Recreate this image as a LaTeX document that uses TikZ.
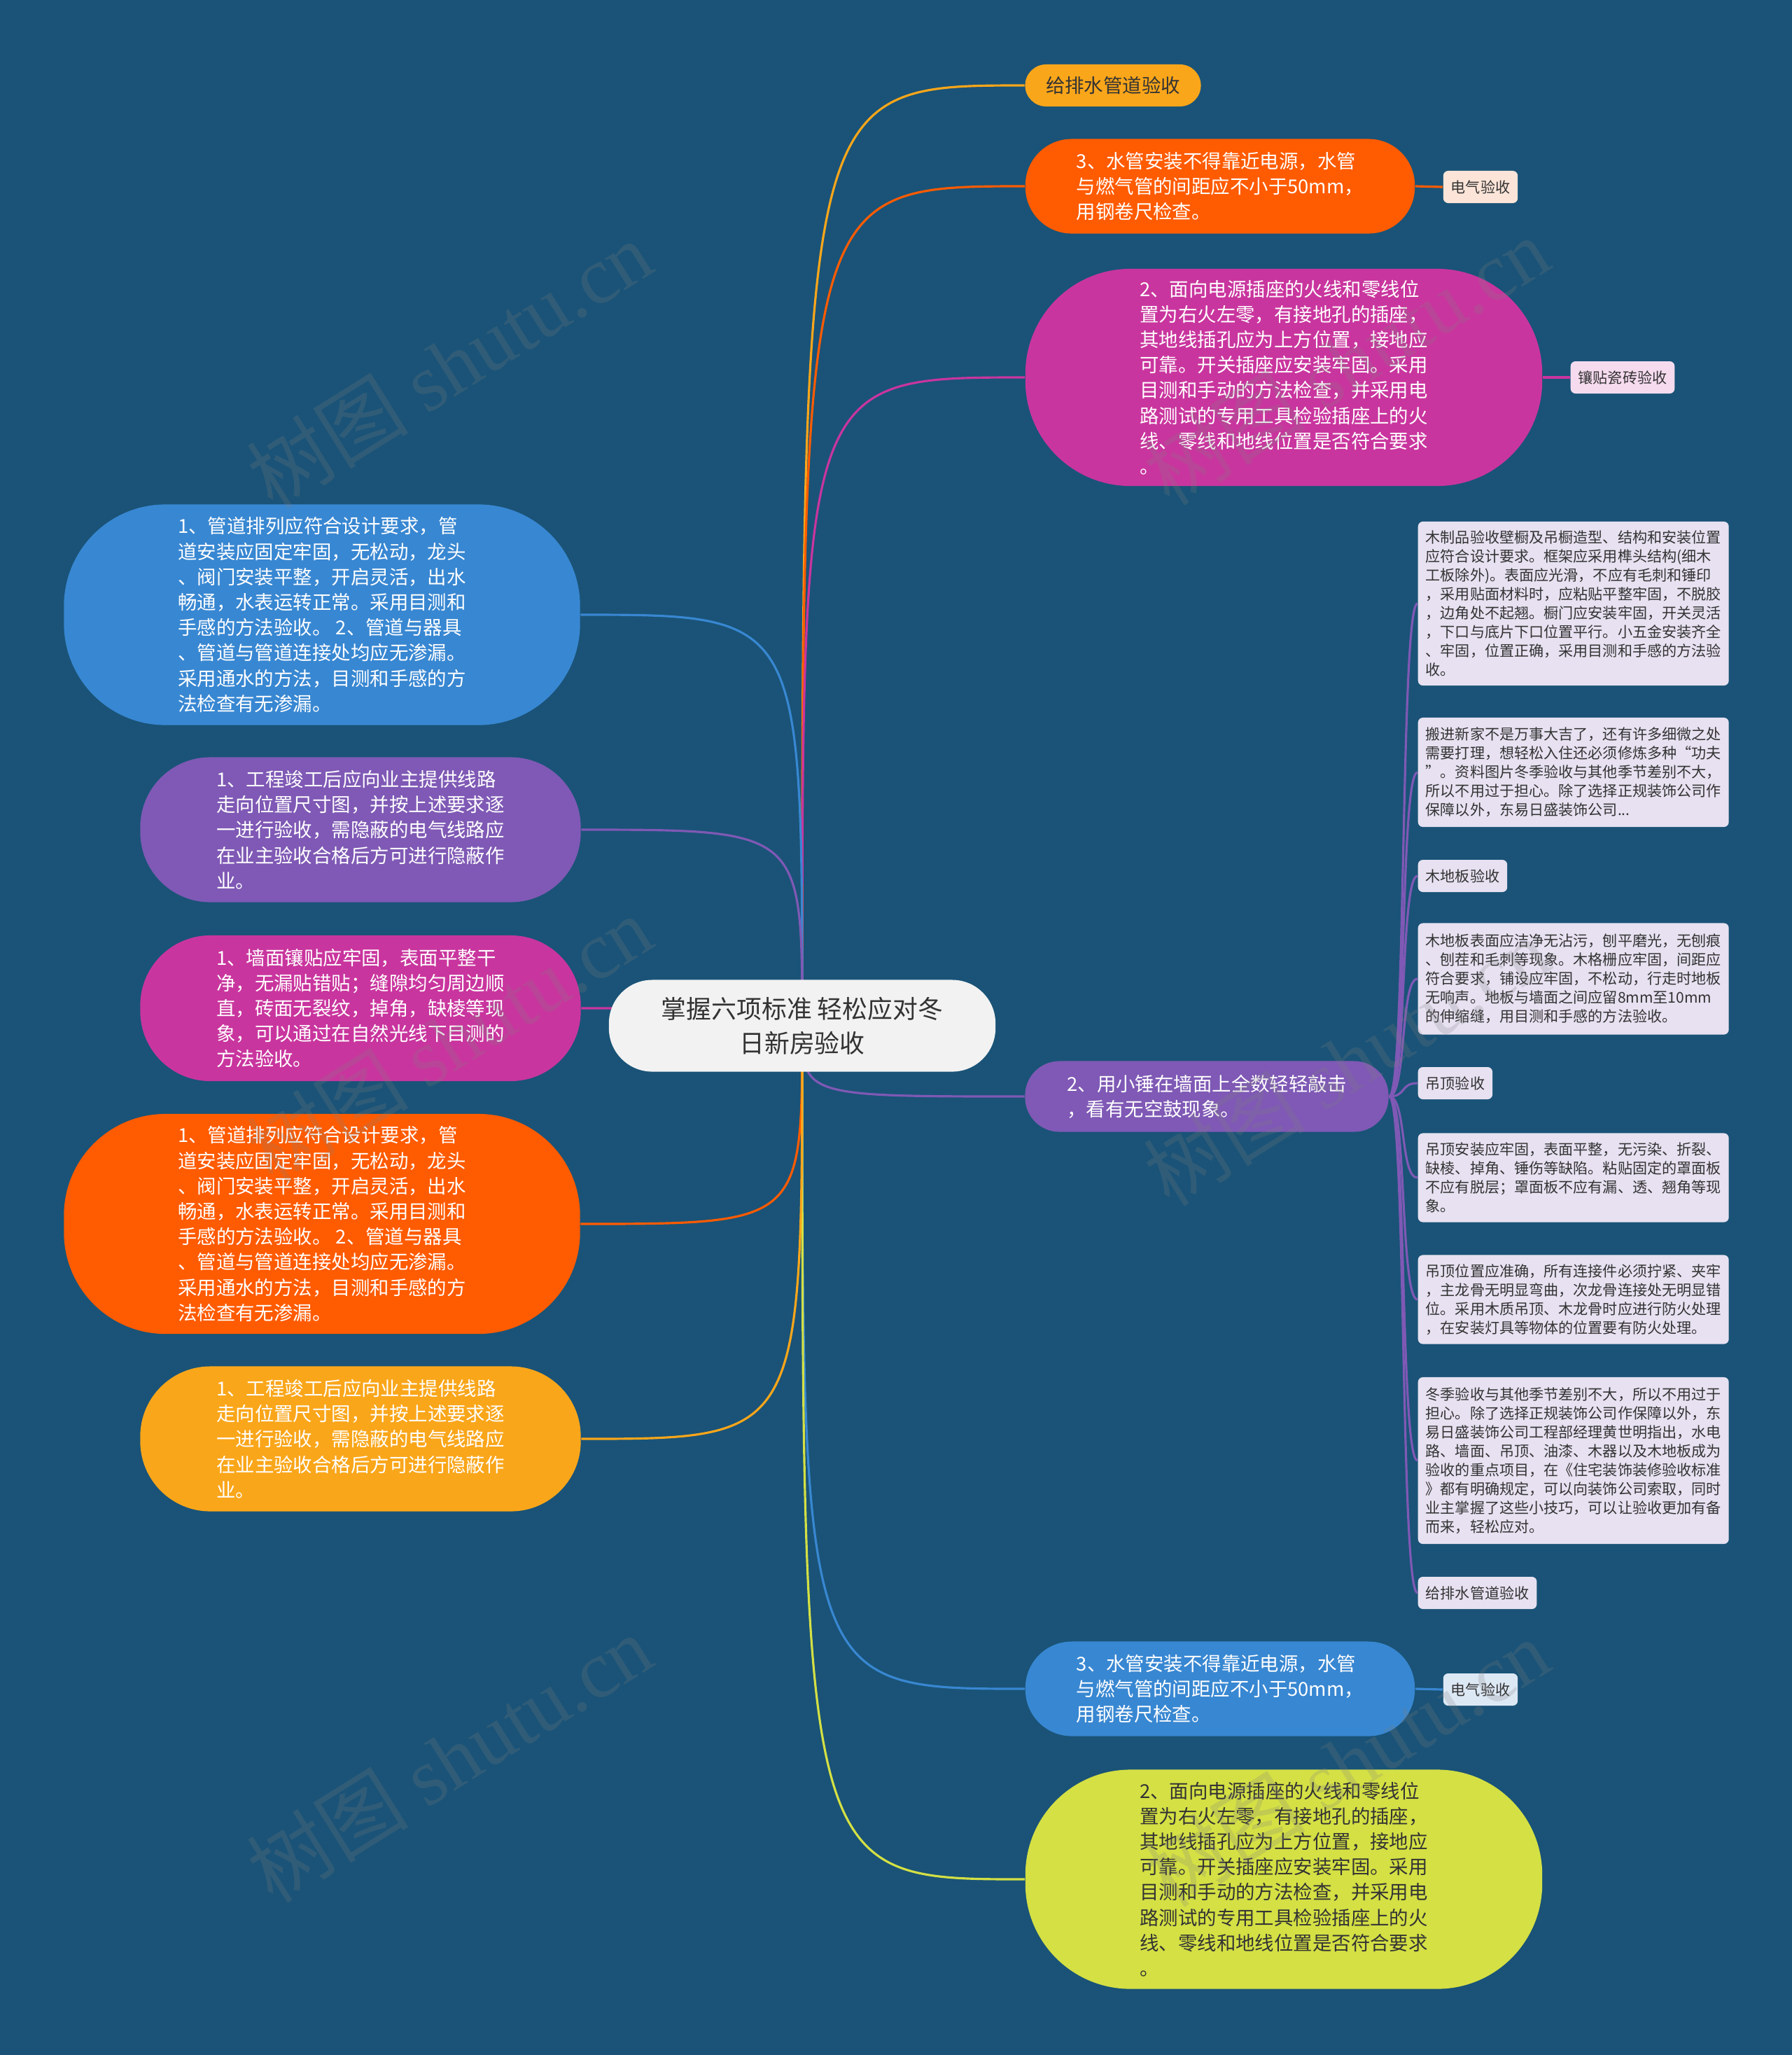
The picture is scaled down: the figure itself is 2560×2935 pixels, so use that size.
\documentclass[tikz,border=0pt]{standalone}
\usepackage{fontspec}
\usepackage{tikz}
\newfontfamily\cjk{Noto Sans CJK SC}
\newfontfamily\wmserif{Liberation Serif}
\definecolor{bgBlue}{RGB}{26,83,119}
\definecolor{rootGray}{RGB}{242,242,242}
\definecolor{textDark}{RGB}{51,51,51}
\definecolor{nodeYellow}{RGB}{250,166,26}
\definecolor{nodeOrange}{RGB}{255,91,0}
\definecolor{nodeMagenta}{RGB}{201,53,158}
\definecolor{nodePurple}{RGB}{127,89,181}
\definecolor{nodeBlue}{RGB}{56,135,210}
\definecolor{nodeLime}{RGB}{212,224,68}
\definecolor{noteLilac}{RGB}{231,225,241}
\definecolor{tagPeach}{RGB}{252,229,216}
\definecolor{tagPink}{RGB}{246,219,239}
\definecolor{tagSky}{RGB}{221,232,245}
\pgfdeclarelayer{bg}
\pgfdeclarelayer{links}
\pgfsetlayers{bg,links,main}

\begin{document}
\begin{tikzpicture}[x=0.01cm, y=-0.01cm,
    pill/.style={rounded corners=#1, align=left, inner sep=0pt, text=white,
      font=\cjk\fontsize{7.8}{10.3}\selectfont},
    notebox/.style={rounded corners=0.07cm, fill=noteLilac, text=textDark, align=left,
      anchor=west, inner xsep=0.11cm, inner ysep=0pt, minimum width=4.43cm,
      font=\cjk\fontsize{6}{7.7}\selectfont},
    tagbox/.style={rounded corners=0.07cm, fill=#1, text=textDark, inner xsep=0.11cm,
      inner ysep=0pt, minimum height=0.46cm, font=\cjk\fontsize{6}{7.7}\selectfont},
    link/.style={line width=0.9pt},
    wm/.style={rotate=32, text=gray, opacity=0.22, font=\fontsize{33}{33}\selectfont}]
  \useasboundingbox (0,0) rectangle (2560,2935);
  \begin{pgfonlayer}{bg}
    \fill[bgBlue] (0,0) rectangle (2560,2935);
  \end{pgfonlayer}

  % root
  \node[pill=0.62cm, fill=rootGray, text=textDark, align=center, minimum width=5.52cm,
    minimum height=1.31cm, font=\cjk\fontsize{10.2}{13.8}\selectfont] (root) at (1146,1465)
    {掌握六项标准 轻松应对冬\\日新房验收};

  % right branches
  \node[pill=0.3cm, fill=nodeYellow, text=textDark, minimum width=2.51cm, minimum height=0.6cm,
    font=\cjk\fontsize{7.8}{10}\selectfont] (ya) at (1590,122) {给排水管道验收};
  \node[pill=0.66cm, fill=nodeOrange, minimum width=5.56cm, minimum height=1.35cm] (ob) at (1743,266)
    {3、水管安装不得靠近电源，水管\\与燃气管的间距应不小于50mm，\\用钢卷尺检查。};
  \node[tagbox=tagPeach] (tg1) at (2115,267) {电气验收};
  \node[pill=1.5cm, fill=nodeMagenta, minimum width=7.38cm, minimum height=3.1cm] (mb) at (1834,539)
    {2、面向电源插座的火线和零线位\\置为右火左零，有接地孔的插座，\\其地线插孔应为上方位置，接地应\\可靠。开关插座应安装牢固。采用\\目测和手动的方法检查，并采用电\\路测试的专用工具检验插座上的火\\线、零线和地线位置是否符合要求\\。};
  \node[tagbox=tagPink] (tg2) at (2318,539) {镶贴瓷砖验收};
  \node[pill=0.49cm, fill=nodePurple, minimum width=5.19cm, minimum height=1.01cm] (pr) at (1724,1566)
    {2、用小锤在墙面上全数轻轻敲击\\，看有无空鼓现象。};
  \node[pill=0.66cm, fill=nodeBlue, minimum width=5.56cm, minimum height=1.35cm] (bb) at (1743,2412)
    {3、水管安装不得靠近电源，水管\\与燃气管的间距应不小于50mm，\\用钢卷尺检查。};
  \node[tagbox=tagSky] (tg3) at (2115,2413) {电气验收};
  \node[pill=1.5cm, fill=nodeLime, text=textDark, minimum width=7.38cm, minimum height=3.13cm] (gb) at (1834,2684)
    {2、面向电源插座的火线和零线位\\置为右火左零，有接地孔的插座，\\其地线插孔应为上方位置，接地应\\可靠。开关插座应安装牢固。采用\\目测和手动的方法检查，并采用电\\路测试的专用工具检验插座上的火\\线、零线和地线位置是否符合要求\\。};

  % left branches
  \node[pill=1.45cm, fill=nodeBlue, minimum width=7.37cm, minimum height=3.15cm] (lb) at (460,878)
    {1、管道排列应符合设计要求，管\\道安装应固定牢固，无松动，龙头\\、阀门安装平整，开启灵活，出水\\畅通，水表运转正常。采用目测和\\手感的方法验收。 2、管道与器具\\、管道与管道连接处均应无渗漏。\\采用通水的方法，目测和手感的方\\法检查有无渗漏。};
  \node[pill=1.0cm, fill=nodePurple, minimum width=6.29cm, minimum height=2.07cm] (lp) at (515,1185)
    {1、工程竣工后应向业主提供线路\\走向位置尺寸图，并按上述要求逐\\一进行验收，需隐蔽的电气线路应\\在业主验收合格后方可进行隐蔽作\\业。};
  \node[pill=1.0cm, fill=nodeMagenta, minimum width=6.29cm, minimum height=2.08cm] (lm) at (515,1440)
    {1、墙面镶贴应牢固，表面平整干\\净，无漏贴错贴；缝隙均匀周边顺\\直，砖面无裂纹，掉角，缺棱等现\\象，可以通过在自然光线下目测的\\方法验收。};
  \node[pill=1.45cm, fill=nodeOrange, minimum width=7.37cm, minimum height=3.14cm] (lo) at (460,1748)
    {1、管道排列应符合设计要求，管\\道安装应固定牢固，无松动，龙头\\、阀门安装平整，开启灵活，出水\\畅通，水表运转正常。采用目测和\\手感的方法验收。 2、管道与器具\\、管道与管道连接处均应无渗漏。\\采用通水的方法，目测和手感的方\\法检查有无渗漏。};
  \node[pill=1.0cm, fill=nodeYellow, minimum width=6.29cm, minimum height=2.07cm] (ly) at (515,2055)
    {1、工程竣工后应向业主提供线路\\走向位置尺寸图，并按上述要求逐\\一进行验收，需隐蔽的电气线路应\\在业主验收合格后方可进行隐蔽作\\业。};

  % notes of the purple branch
  \node[notebox, minimum height=2.34cm] (note1) at (2025,862)
    {木制品验收壁橱及吊橱造型、结构和安装位置\\应符合设计要求。框架应采用榫头结构(细木\\工板除外)。表面应光滑，不应有毛刺和锤印\\，采用贴面材料时，应粘贴平整牢固，不脱胶\\，边角处不起翘。橱门应安装牢固，开关灵活\\，下口与底片下口位置平行。小五金安装齐全\\、牢固，位置正确，采用目测和手感的方法验\\收。};
  \node[notebox, minimum height=1.56cm] (note2) at (2025,1103)
    {搬进新家不是万事大吉了，还有许多细微之处\\需要打理，想轻松入住还必须修炼多种“功夫\\”。资料图片冬季验收与其他季节差别不大，\\所以不用过于担心。除了选择正规装饰公司作\\保障以外，东易日盛装饰公司...};
  \node[tagbox=noteLilac, anchor=west] (note3) at (2025,1251) {木地板验收};
  \node[notebox, minimum height=1.59cm] (note4) at (2025,1398)
    {木地板表面应洁净无沾污，刨平磨光，无刨痕\\、刨茬和毛刺等现象。木格栅应牢固，间距应\\符合要求，铺设应牢固，不松动，行走时地板\\无响声。地板与墙面之间应留8mm至10mm\\的伸缩缝，用目测和手感的方法验收。};
  \node[tagbox=noteLilac, anchor=west] (note5) at (2025,1547) {吊顶验收};
  \node[notebox, minimum height=1.27cm] (note6) at (2025,1682)
    {吊顶安装应牢固，表面平整，无污染、折裂、\\缺棱、掉角、锤伤等缺陷。粘贴固定的罩面板\\不应有脱层；罩面板不应有漏、透、翘角等现\\象。};
  \node[notebox, minimum height=1.27cm] (note7) at (2025,1856)
    {吊顶位置应准确，所有连接件必须拧紧、夹牢\\，主龙骨无明显弯曲，次龙骨连接处无明显错\\位。采用木质吊顶、木龙骨时应进行防火处理\\，在安装灯具等物体的位置要有防火处理。};
  \node[notebox, minimum height=2.38cm] (note8) at (2025,2086)
    {冬季验收与其他季节差别不大，所以不用过于\\担心。除了选择正规装饰公司作保障以外，东\\易日盛装饰公司工程部经理黄世明指出，水电\\路、墙面、吊顶、油漆、木器以及木地板成为\\验收的重点项目，在《住宅装饰装修验收标准\\》都有明确规定，可以向装饰公司索取，同时\\业主掌握了这些小技巧，可以让验收更加有备\\而来，轻松应对。};
  \node[tagbox=noteLilac, anchor=west] (note9) at (2025,2275) {给排水管道验收};

  % connectors
  \begin{pgfonlayer}{links}
    \foreach \t/\c in {ya/nodeYellow, ob/nodeOrange, mb/nodeMagenta, pr/nodePurple, bb/nodeBlue, gb/nodeLime}
      \draw[link, \c] (root.center) .. controls (root.center |- \t.west) .. (\t.west);
    \foreach \t/\c in {lb/nodeBlue, lp/nodePurple, lm/nodeMagenta, lo/nodeOrange, ly/nodeYellow}
      \draw[link, \c] (root.center) .. controls (root.center |- \t.east) .. (\t.east);
    \draw[link, nodeOrange] (ob.east) -- (tg1.west);
    \draw[link, nodeMagenta] (mb.east) -- (tg2.west);
    \draw[link, nodeBlue] (bb.east) -- (tg3.west);
    \foreach \i in {1,...,9}
      \draw[link, nodePurple] (pr.east) .. controls +(25,0) and +(-25,0) .. (note\i.west);
  \end{pgfonlayer}

  % watermarks
  \foreach \p in {(642,520),(642,1484),(642,2511),(1923,515),(1923,1516),(1923,2517)}
    \node[wm] at \p {\cjk 树图\ \wmserif shutu.cn};
\end{tikzpicture}
\end{document}
